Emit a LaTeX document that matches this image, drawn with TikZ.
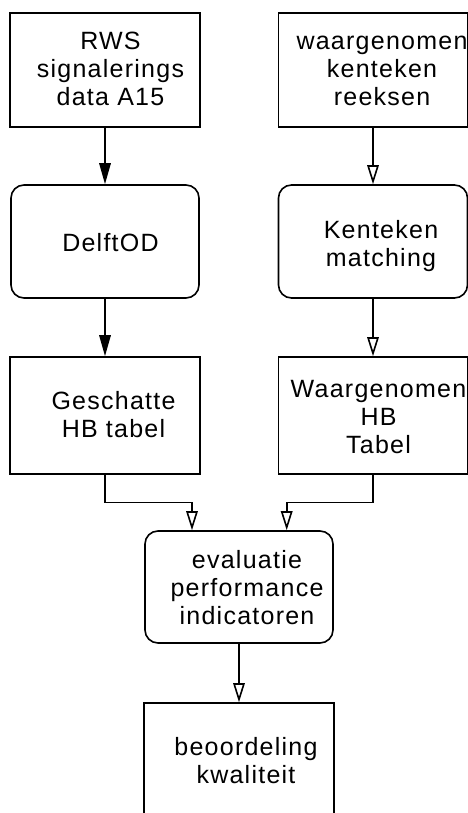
\documentclass[tikz,border=0pt]{standalone}
\usepackage{fontspec}
\setmainfont{Liberation Sans}[LetterSpace=5]
\usetikzlibrary{arrows.meta}
\begin{document}
\begin{tikzpicture}[x=1pt, y=-1pt,
  box/.style={draw, line width=1.6pt, inner sep=0pt},
  roundbox/.style={box, rounded corners=13pt},
  label/.style={align=center, inner sep=0pt, font=\fontsize{25}{28}\selectfont},
  link/.style={line width=1.6pt},
  solidtip/.style={link, -{Triangle[length=21pt, width=11.5pt]}},
  opentip/.style={link, -{Triangle[open, length=19pt, width=11.5pt]}}]
  \useasboundingbox (0,0) rectangle (468,813);
  \clip (0,0) rectangle (468,813);

  % boxes
  \node[box, minimum width=190pt, minimum height=114pt] (rws) at (105,70) {};
  \node[box, minimum width=189pt, minimum height=114pt] (wkr) at (373,70) {};
  \node[roundbox, minimum width=188pt, minimum height=113pt] (delft) at (105,241.5) {};
  \node[roundbox, minimum width=189pt, minimum height=113pt] (kmatch) at (373,241.5) {};
  \node[box, minimum width=190pt, minimum height=117pt] (gesch) at (105,415.5) {};
  \node[box, minimum width=189pt, minimum height=117pt] (whb) at (373,415.5) {};
  \node[roundbox, minimum width=188pt, minimum height=112pt] (eval) at (239,587) {};
  \node[box, minimum width=190pt, minimum height=126pt] (beo) at (239,766) {};

  % labels
  \node[label] (t-rws) at (110.5,71.9) {\strut RWS\\\strut signalerings\\\strut data A15};
  \node[label] (t-wkr) at (382,71.9) {\strut waargenomen\\\strut kenteken\\\strut reeksen};
  \node[label] (t-delft) at (110.5,246.1) {\strut DelftOD};
  \node[label] (t-kmatch) at (381,246.9) {\strut Kenteken\\\strut matching};
  \node[label] (t-gesch) at (113.5,418.2) {\strut Geschatte\\\strut HB tabel};
  \node[label] (t-whb) at (378.5,419.4) {\strut Waargenomen\\\strut HB\\\strut Tabel};
  \node[label] (t-eval) at (247,591.1) {\strut evaluatie\\\strut performance\\\strut indicatoren};
  \node[label] (t-beo) at (246,763.6) {\strut beoordeling\\\strut kwaliteit};

  % connectors
  \draw[solidtip] (rws.south) -- (delft.north);
  \draw[solidtip] (delft.south) -- (gesch.north);
  \draw[opentip] (wkr.south) -- (kmatch.north);
  \draw[opentip] (kmatch.south) -- (whb.north);
  \draw[opentip] (gesch.south) -- ++(0,27.5) -| ([xshift=-47pt]eval.north);
  \draw[opentip] (whb.south) -- ++(0,27.5) -| ([xshift=47.7pt]eval.north);
  \draw[opentip] (eval.south) -- (beo.north);
\end{tikzpicture}
\end{document}
